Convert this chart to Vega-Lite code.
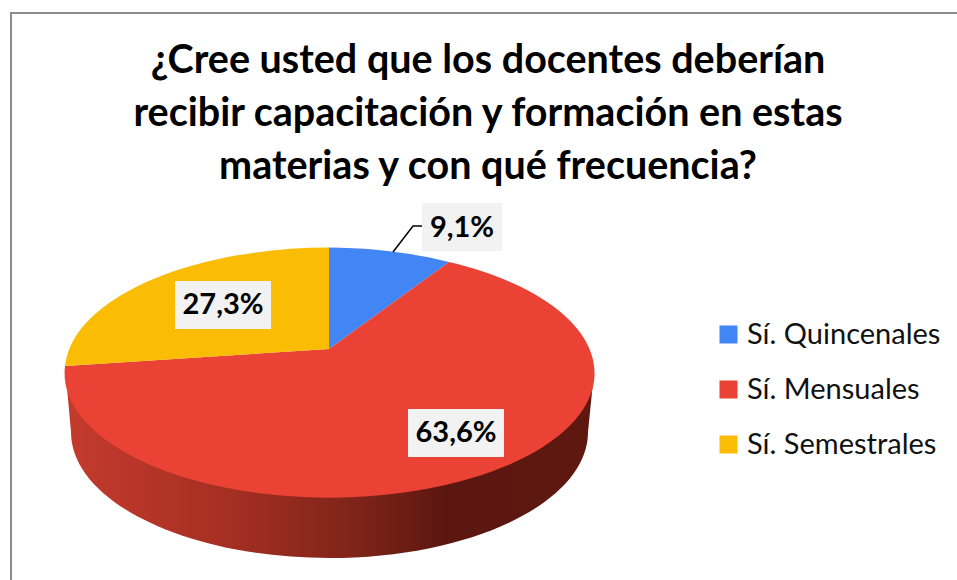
{
"$schema":"https://vega.github.io/schema/vega-lite/v6.json",
"width":954,"height":600,
"autosize":{"type":"none"},
"padding":{"left":11,"top":13,"right":0,"bottom":0},
"background":"white",
"view":{"stroke":"#8c8c8c","strokeWidth":2,"fill":"white"},
"title":{"text":["¿Cree usted que los docentes deberían","recibir capacitación y formación en estas","materias y con qué frecuencia?"],"font":"Lato","fontSize":39.5,"fontWeight":"bold","color":"#000000","anchor":"middle","frame":"group","orient":"top","baseline":"alphabetic","offset":-205,"lineHeight":53},
"data":{"values":[
{"respuesta":"Sí. Quincenales","porcentaje":9.1,"etiqueta":"9,1%"},
{"respuesta":"Sí. Mensuales","porcentaje":63.6,"etiqueta":"63,6%"},
{"respuesta":"Sí. Semestrales","porcentaje":27.3,"etiqueta":"27,3%"}
]},
"resolve":{"scale":{"shape":"independent"}},
"layer":[
{"transform":[{"filter":"datum.respuesta === 'Sí. Mensuales'"}],
 "mark":{"type":"point","filled":true,"size":4,"opacity":1,"shape":"M-423,53 L-417,119 A258.5,126 0 0 0 100,119 L106,59 Z",
 "fill":{"gradient":"linear","x1":0,"y1":0,"x2":1,"y2":0,"stops":[{"offset":0,"color":"#c43b2d"},{"offset":0.3,"color":"#a62f23"},{"offset":0.55,"color":"#7f2419"},{"offset":0.72,"color":"#5b1710"},{"offset":1,"color":"#5e1810"}]}},
 "encoding":{}},
{"mark":{"type":"point","filled":true,"size":4,"opacity":1},
 "encoding":{
  "color":{"field":"respuesta","type":"nominal","sort":null,
   "scale":{"domain":["Sí. Quincenales","Sí. Mensuales","Sí. Semestrales"],"range":["#4285f4","#ea4335","#fbbc04"]},
   "legend":{"title":null,"orient":"none","legendX":703,"legendY":307,"symbolType":"square","symbolSize":324,"symbolStrokeWidth":0,"labelFont":"Lato","labelFontSize":29,"labelColor":"#111111","labelOffset":4,"rowPadding":25,"padding":0,"labelLimit":300}},
  "shape":{"field":"respuesta","type":"nominal","sort":null,"legend":null,
   "scale":{"domain":["Sí. Quincenales","Sí. Mensuales","Sí. Semestrales"],"range":[
    "M-159,36 L-159,-65.5 A265,124.5 0 0 1 -39,-51 Z",
    "M-159,36 L-39,-51 A265,124.5 0 1 1 -423,53 Z",
    "M-159,36 L-423,53 A265,124.5 0 0 1 -159,-65.5 Z"]}}
 }},
{"mark":{"type":"point","filled":true,"size":4,"opacity":1,"color":"#f2f2f2"},
 "encoding":{
  "shape":{"field":"respuesta","type":"nominal","sort":null,"legend":null,
   "scale":{"domain":["Sí. Quincenales","Sí. Mensuales","Sí. Semestrales"],"range":[
    "M-66,-110 L14,-110 L14,-62 L-66,-62 Z",
    "M-80,96 L16,96 L16,144 L-80,144 Z",
    "M-313,-32 L-217,-32 L-217,16 L-313,16 Z"]}}
 }},
{"transform":[{"filter":"datum.respuesta === 'Sí. Quincenales'"}],
 "mark":{"type":"point","filled":false,"size":4,"opacity":1,"stroke":"#000000","strokeWidth":1.5,"shape":"M-95,-61 L-75,-87 L-66,-87"},
 "encoding":{}},
{"transform":[{"filter":"datum.respuesta === 'Sí. Quincenales'"}],
 "mark":{"type":"text","font":"Lato","fontSize":29,"fontWeight":"bold","color":"#000000","dx":-26,"dy":-85,"align":"center","baseline":"middle"},
 "encoding":{"text":{"field":"etiqueta","type":"nominal"}}},
{"transform":[{"filter":"datum.respuesta === 'Sí. Mensuales'"}],
 "mark":{"type":"text","font":"Lato","fontSize":29,"fontWeight":"bold","color":"#000000","dx":-32,"dy":120,"align":"center","baseline":"middle"},
 "encoding":{"text":{"field":"etiqueta","type":"nominal"}}},
{"transform":[{"filter":"datum.respuesta === 'Sí. Semestrales'"}],
 "mark":{"type":"text","font":"Lato","fontSize":29,"fontWeight":"bold","color":"#000000","dx":-265,"dy":-8,"align":"center","baseline":"middle"},
 "encoding":{"text":{"field":"etiqueta","type":"nominal"}}}
]
}
